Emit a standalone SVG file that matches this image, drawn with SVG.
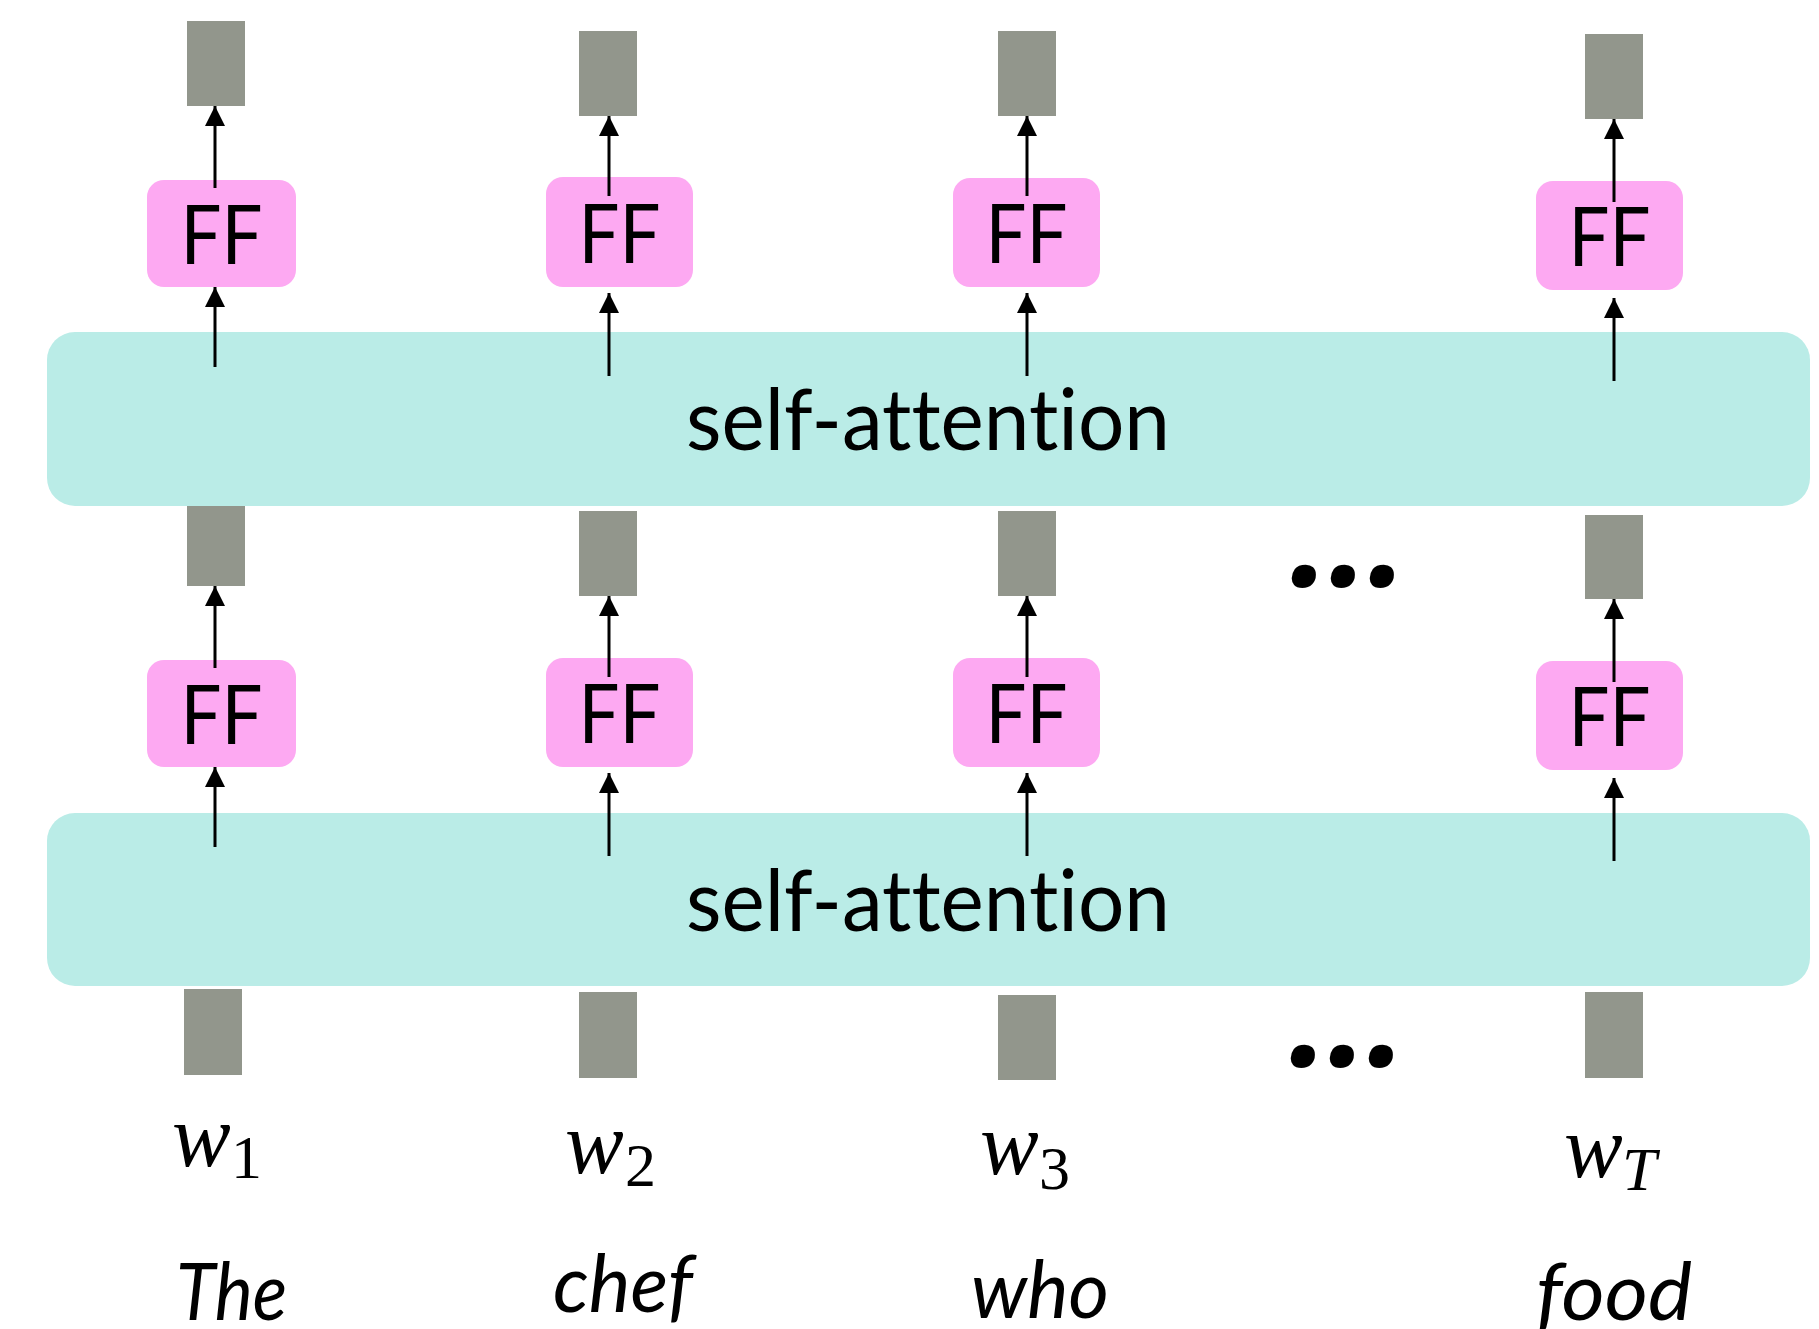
<svg xmlns="http://www.w3.org/2000/svg" width="1819" height="1329" viewBox="0 0 1819 1329">
<style>
.vec{fill:#92968C}
.ff{fill:#FDA9F2}
.sa{fill:#BAECE7}
.fft{font-family:Lato,"Open Sans","Liberation Sans",sans-serif;font-size:81px;fill:#000;text-anchor:middle}
.sat{font-family:Lato,"Open Sans","Liberation Sans",sans-serif;font-size:86px;fill:#000;text-anchor:middle;font-variant-ligatures:none;font-feature-settings:"liga" 0,"dlig" 0}
.dots{font-family:"Open Sans","Noto Sans",sans-serif;font-size:140px;font-weight:bold;font-style:italic;fill:#000}
.wv{font-family:"Liberation Serif","DejaVu Serif",serif;font-style:italic;font-size:88px;fill:#000}
.ws{font-family:"Liberation Serif","DejaVu Serif",serif;font-size:62px;fill:#000}
.wsi{font-family:"Liberation Serif","DejaVu Serif",serif;font-style:italic;font-size:62px;fill:#000}
.word{font-family:Lato,"Open Sans","Liberation Sans",sans-serif;font-style:italic;font-size:80px;fill:#000}
.arr{stroke:#000;stroke-width:3;fill:none;marker-end:url(#ah)}
</style>
<defs>
<marker id="ah" markerUnits="userSpaceOnUse" markerWidth="20" markerHeight="22" viewBox="0 0 20 22" refX="20" refY="10" orient="auto">
<path d="M0,0 L20,10 L0,20 Z" fill="#000"/>
</marker>
</defs>
<rect width="1819" height="1329" fill="#fff"/>

<g id="sa-upper"><rect class="sa" x="47" y="332" width="1763" height="174" rx="28"/><text class="sat" x="928" y="450" textLength="484" lengthAdjust="spacingAndGlyphs">self-attention</text></g>
<g id="sa-lower"><rect class="sa" x="47" y="813" width="1763" height="173" rx="28"/><text class="sat" x="928" y="931" textLength="484" lengthAdjust="spacingAndGlyphs">self-attention</text></g>

<g id="vec-top-1"><rect class="vec" x="187" y="21" width="58" height="85"/></g>
<g id="vec-top-2"><rect class="vec" x="579" y="31" width="58" height="85"/></g>
<g id="vec-top-3"><rect class="vec" x="998" y="31" width="58" height="85"/></g>
<g id="vec-top-T"><rect class="vec" x="1585" y="34" width="58" height="85"/></g>

<g id="ff-top-1"><rect class="ff" x="147" y="180" width="149" height="107" rx="17"/><text class="fft" x="221.5" y="264" textLength="82" lengthAdjust="spacingAndGlyphs">FF</text></g>
<g id="ff-top-2"><rect class="ff" x="546" y="177" width="147" height="110" rx="17"/><text class="fft" x="619.5" y="263" textLength="82" lengthAdjust="spacingAndGlyphs">FF</text></g>
<g id="ff-top-3"><rect class="ff" x="953" y="178" width="147" height="109" rx="17"/><text class="fft" x="1026.5" y="263" textLength="82" lengthAdjust="spacingAndGlyphs">FF</text></g>
<g id="ff-top-T"><rect class="ff" x="1536" y="181" width="147" height="109" rx="17"/><text class="fft" x="1609.5" y="266" textLength="82" lengthAdjust="spacingAndGlyphs">FF</text></g>

<g id="vec-mid-1"><rect class="vec" x="187" y="506" width="58" height="80"/></g>
<g id="vec-mid-2"><rect class="vec" x="579" y="511" width="58" height="85"/></g>
<g id="vec-mid-3"><rect class="vec" x="998" y="511" width="58" height="85"/></g>
<g id="vec-mid-T"><rect class="vec" x="1585" y="515" width="58" height="84"/></g>

<g id="ff-mid-1"><rect class="ff" x="147" y="660" width="149" height="107" rx="17"/><text class="fft" x="221.5" y="744" textLength="82" lengthAdjust="spacingAndGlyphs">FF</text></g>
<g id="ff-mid-2"><rect class="ff" x="546" y="658" width="147" height="109" rx="17"/><text class="fft" x="619.5" y="743" textLength="82" lengthAdjust="spacingAndGlyphs">FF</text></g>
<g id="ff-mid-3"><rect class="ff" x="953" y="658" width="147" height="109" rx="17"/><text class="fft" x="1026.5" y="743" textLength="82" lengthAdjust="spacingAndGlyphs">FF</text></g>
<g id="ff-mid-T"><rect class="ff" x="1536" y="661" width="147" height="109" rx="17"/><text class="fft" x="1609.5" y="746" textLength="82" lengthAdjust="spacingAndGlyphs">FF</text></g>

<g id="vec-in-1"><rect class="vec" x="184" y="989" width="58" height="86"/></g>
<g id="vec-in-2"><rect class="vec" x="579" y="992" width="58" height="86"/></g>
<g id="vec-in-3"><rect class="vec" x="998" y="995" width="58" height="85"/></g>
<g id="vec-in-T"><rect class="vec" x="1585" y="992" width="58" height="86"/></g>

<g id="ellipsis-upper"><text class="dots" x="1290" y="586" textLength="118" lengthAdjust="spacing">...</text></g>
<g id="ellipsis-lower"><text class="dots" x="1289" y="1066" textLength="118" lengthAdjust="spacing">...</text></g>

<g id="label-w1"><text class="wv" x="172" y="1166">w</text><text class="ws" x="231" y="1178">1</text></g>
<g id="label-w2"><text class="wv" x="565" y="1173">w</text><text class="ws" x="625" y="1186">2</text></g>
<g id="label-w3"><text class="wv" x="980" y="1174">w</text><text class="ws" x="1039" y="1189">3</text></g>
<g id="label-wT"><text class="wv" x="1564" y="1177">w</text><text class="wsi" x="1622" y="1190">T</text></g>

<g id="word-1"><text class="word" x="176" y="1320" textLength="111" lengthAdjust="spacingAndGlyphs">The</text></g>
<g id="word-2"><text class="word" x="553" y="1312" textLength="140" lengthAdjust="spacingAndGlyphs">chef</text></g>
<g id="word-3"><text class="word" x="971" y="1318" textLength="138" lengthAdjust="spacingAndGlyphs">who</text></g>
<g id="word-T"><text class="word" x="1536" y="1320" textLength="156" lengthAdjust="spacingAndGlyphs">food</text></g>

<g id="connectors">
<line class="arr" x1="215" y1="367" x2="215" y2="287"/>
<line class="arr" x1="215" y1="188" x2="215" y2="106"/>
<line class="arr" x1="609" y1="376" x2="609" y2="293"/>
<line class="arr" x1="609" y1="196" x2="609" y2="116"/>
<line class="arr" x1="1027" y1="376" x2="1027" y2="293"/>
<line class="arr" x1="1027" y1="196" x2="1027" y2="116"/>
<line class="arr" x1="1614" y1="381" x2="1614" y2="298"/>
<line class="arr" x1="1614" y1="202" x2="1614" y2="119"/>
<line class="arr" x1="215" y1="847" x2="215" y2="767"/>
<line class="arr" x1="215" y1="668" x2="215" y2="586"/>
<line class="arr" x1="609" y1="856" x2="609" y2="773"/>
<line class="arr" x1="609" y1="677" x2="609" y2="596"/>
<line class="arr" x1="1027" y1="856" x2="1027" y2="773"/>
<line class="arr" x1="1027" y1="677" x2="1027" y2="596"/>
<line class="arr" x1="1614" y1="861" x2="1614" y2="778"/>
<line class="arr" x1="1614" y1="682" x2="1614" y2="599"/>
</g>
</svg>
